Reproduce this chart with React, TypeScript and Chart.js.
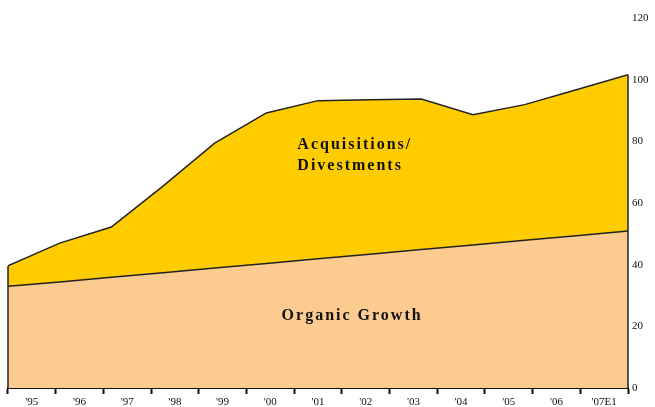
import React, { useEffect, useRef } from "react";
import { Chart, registerables } from "chart.js";

Chart.register(...registerables);

const yearLabels = ["'95", "'96", "'97", "'98", "'99", "'00", "'01", "'02", "'03", "'04", "'05", "'06", "'07E1"];
const organicGrowth = [33.0, 34.4, 35.9, 37.4, 38.9, 40.4, 41.9, 43.4, 44.9, 46.4, 47.9, 49.4, 50.9];
const totalWithAcquisitions = [39.6, 47.0, 52.2, 65.5, 79.4, 89.2, 93.2, 93.5, 93.7, 88.6, 91.9, 96.7, 101.6];
const yTicks = [0, 20, 40, 60, 80, 100, 120];
const areaLabels = [
  { lines: ["Acquisitions/", "Divestments"], x: 5.6, y: 79, align: "left" },
  { lines: ["Organic Growth"], x: 6.66, y: 23.5, align: "center" },
];

const edgesAndText = {
  id: "edgesAndText",
  afterDatasetsDraw(chart: any) {
    const { ctx } = chart;
    const xs = chart.scales.x;
    const ys = chart.scales.y;
    ctx.save();
    ctx.strokeStyle = "#222";
    ctx.lineWidth = 1.5;
    const last = totalWithAcquisitions.length - 1;
    [0, last].forEach((i) => {
      const px = xs.getPixelForValue(i);
      ctx.beginPath();
      ctx.moveTo(px, ys.getPixelForValue(totalWithAcquisitions[i]));
      ctx.lineTo(px, ys.getPixelForValue(0));
      ctx.stroke();
    });
    ctx.fillStyle = "#111";
    ctx.font = "bold 16px 'Liberation Serif', 'Times New Roman', serif";
    (ctx as any).letterSpacing = "2px";
    ctx.textBaseline = "middle";
    areaLabels.forEach((lab) => {
      ctx.textAlign = lab.align;
      lab.lines.forEach((t, j) => {
        ctx.fillText(t, xs.getPixelForValue(lab.x), ys.getPixelForValue(lab.y) + j * 21);
      });
    });
    ctx.restore();
  },
};

export default function App() {
  const ref = useRef<HTMLCanvasElement | null>(null);
  useEffect(() => {
    document.body.style.margin = "0";
    document.body.style.overflow = "hidden";
    const chart = new Chart(ref.current as HTMLCanvasElement, {
      type: "line",
      data: {
        datasets: [
          {
            label: "Organic Growth",
            data: organicGrowth.map((v, i) => ({ x: i, y: v })),
            backgroundColor: "#FCCB8F",
            borderColor: "#222",
            borderWidth: 1.5,
            pointRadius: 0,
            tension: 0,
            fill: "origin",
            xAxisID: "x",
          },
          {
            label: "Acquisitions/Divestments",
            data: totalWithAcquisitions.map((v, i) => ({ x: i, y: v })),
            backgroundColor: "#FFCC00",
            borderColor: "#222",
            borderWidth: 1.5,
            pointRadius: 0,
            tension: 0,
            fill: "-1",
            xAxisID: "x",
          },
        ],
      },
      plugins: [edgesAndText],
      options: {
        animation: false,
        responsive: true,
        maintainAspectRatio: false,
        layout: { padding: { left: 8, top: 18, right: 0, bottom: 0 } },
        plugins: { legend: { display: false }, tooltip: { enabled: false } },
        scales: {
          x: {
            type: "linear",
            min: 0,
            max: yearLabels.length - 1,
            display: false,
          },
          xLabels: {
            type: "category",
            labels: yearLabels,
            position: "bottom",
            offset: true,
            grid: { offset: true, drawOnChartArea: false, tickLength: 6, tickColor: "#111", tickWidth: 2 },
            border: { display: true, color: "#111", width: 2 },
            ticks: {
              color: "#111",
              padding: 2,
              maxRotation: 0,
              autoSkip: false,
              font: { family: "'Liberation Serif', 'Times New Roman', serif", size: 11 },
            },
            afterFit: (s: any) => {
              s.height = 19;
            },
          },
          y: {
            position: "right",
            min: 0,
            max: 120,
            afterBuildTicks: (s: any) => {
              s.ticks = yTicks.map((v) => ({ value: v }));
            },
            grid: { display: false, drawTicks: false },
            border: { display: false },
            ticks: {
              color: "#111",
              padding: 4,
              font: { family: "'Liberation Serif', 'Times New Roman', serif", size: 11 },
            },
            afterFit: (s: any) => {
              s.width = 27;
            },
          },
        },
      },
    } as any);
    return () => chart.destroy();
  }, []);
  return (
    <div style={{ width: 655, height: 407, position: "relative" }}>
      <canvas ref={ref} />
    </div>
  );
}
